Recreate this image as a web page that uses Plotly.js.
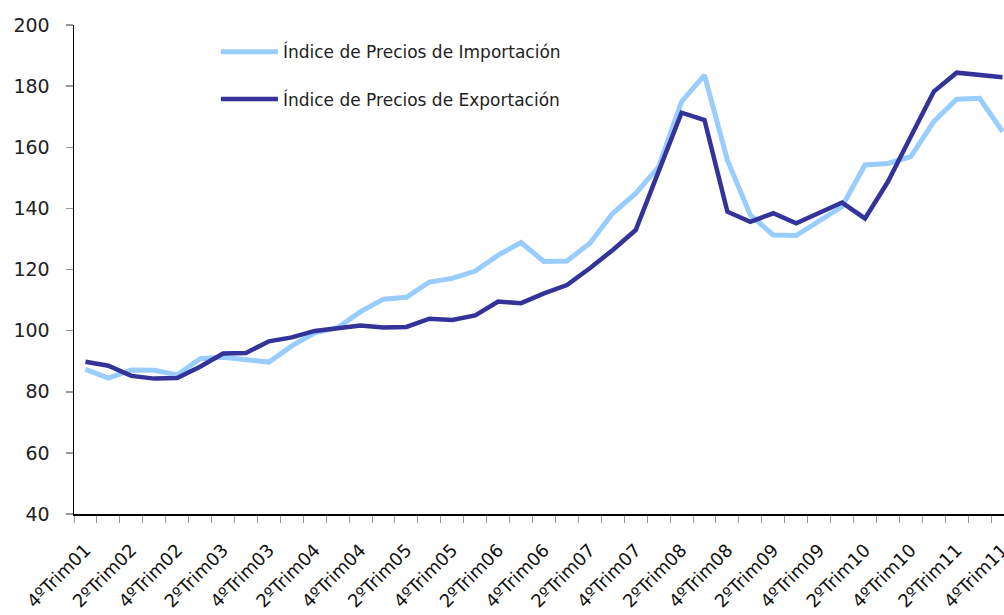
<!DOCTYPE html>
<html>
<head>
<meta charset="utf-8">
<script src="https://cdn.plot.ly/plotly-3.0.1.min.js"></script>
<style>
html, body { margin: 0; padding: 0; overflow: hidden; background: #fff; }
#chart { width: 1014px; height: 615px; }
</style>
</head>
<body>
<div id="chart"></div>
<script>
const categories = [
  "4ºTrim01",
  "1ºTrim02", "2ºTrim02", "3ºTrim02", "4ºTrim02",
  "1ºTrim03", "2ºTrim03", "3ºTrim03", "4ºTrim03",
  "1ºTrim04", "2ºTrim04", "3ºTrim04", "4ºTrim04",
  "1ºTrim05", "2ºTrim05", "3ºTrim05", "4ºTrim05",
  "1ºTrim06", "2ºTrim06", "3ºTrim06", "4ºTrim06",
  "1ºTrim07", "2ºTrim07", "3ºTrim07", "4ºTrim07",
  "1ºTrim08", "2ºTrim08", "3ºTrim08", "4ºTrim08",
  "1ºTrim09", "2ºTrim09", "3ºTrim09", "4ºTrim09",
  "1ºTrim10", "2ºTrim10", "3ºTrim10", "4ºTrim10",
  "1ºTrim11", "2ºTrim11", "3ºTrim11", "4ºTrim11"
];
const tickLabels = [
  "4ºTrim01",
  "", "2ºTrim02", "", "4ºTrim02",
  "", "2ºTrim03", "", "4ºTrim03",
  "", "2ºTrim04", "", "4ºTrim04",
  "", "2ºTrim05", "", "4ºTrim05",
  "", "2ºTrim06", "", "4ºTrim06",
  "", "2ºTrim07", "", "4ºTrim07",
  "", "2ºTrim08", "", "4ºTrim08",
  "", "2ºTrim09", "", "4ºTrim09",
  "", "2ºTrim10", "", "4ºTrim10",
  "", "2ºTrim11", "", "4ºTrim11"
];
const importIndex = [87.3, 84.5, 87.1, 87.0, 85.5, 90.8, 91.3, 90.3, 89.7, 95.0,
  99.3, 101.0, 106.2, 110.3, 110.9, 115.9, 117.1, 119.5, 124.7, 128.8,
  122.6, 122.8, 128.6, 138.4, 144.9, 153.6, 174.9, 183.6, 155.8, 137.8,
  131.3, 131.1, 135.9, 140.6, 154.2, 154.7, 156.9, 168.4, 175.7, 176.0, 165.1];
const exportIndex = [89.8, 88.5, 85.2, 84.3, 84.5, 88.2, 92.5, 92.7, 96.5, 97.8,
  99.9, 100.7, 101.7, 101.0, 101.2, 103.9, 103.5, 105.0, 109.5, 109.0,
  112.2, 114.9, 120.4, 126.4, 132.9, 152.1, 171.3, 168.9, 138.9, 135.6,
  138.4, 135.1, 138.4, 141.9, 136.7, 148.7, 163.5, 178.2, 184.4, 183.6, 182.9];
const seriesNames = ["Índice de Precios de Importación", "Índice de Precios de Exportación"];
const yTicks = [40, 60, 80, 100, 120, 140, 160, 180, 200];

const font = "DejaVu Sans, Verdana, sans-serif";

const traces = [
  {x: categories, y: importIndex, name: seriesNames[0], type: "scatter", mode: "lines",
   legendgroup: "a", line: {color: "#99CCFF", width: 5}},
  {x: categories, y: exportIndex, name: seriesNames[1], type: "scatter", mode: "lines",
   legendgroup: "b", line: {color: "#333399", width: 4.5}}
];

const layout = {
  width: 1014, height: 615,
  margin: {l: 74, r: 0, t: 25, b: 101},
  paper_bgcolor: "#fff", plot_bgcolor: "#fff",
  font: {family: font, color: "#111"},
  showlegend: true,
  legend: {x: 0.151, y: 0.981, xanchor: "left", yanchor: "top",
    font: {family: font, size: 17, color: "#222"},
    bgcolor: "rgba(0,0,0,0)", tracegroupgap: 22, traceorder: "grouped",
    itemwidth: 57},
  xaxis: {
    type: "category", range: [-0.5, 40.5],
    tickmode: "array", tickvals: categories, ticktext: tickLabels,
    tickson: "boundaries", ticks: "outside", ticklen: 7, tickcolor: "#999", tickwidth: 1,
    tickangle: -45, tickfont: {family: font, size: 18, color: "#111"},
    ticklabelstandoff: 17,
    showline: true, linecolor: "#000", linewidth: 1.5,
    showgrid: false, zeroline: false
  },
  yaxis: {
    range: [40, 200], tickmode: "array", tickvals: yTicks,
    ticks: "outside", ticklen: 7, tickcolor: "#999", tickwidth: 1.5,
    tickfont: {family: font, size: 19, color: "#222"},
    ticklabelstandoff: 12,
    showline: true, linecolor: "#000", linewidth: 1.5,
    showgrid: false, zeroline: false
  }
};

Plotly.newPlot("chart", traces, layout, {displayModeBar: false, staticPlot: true});
</script>
</body>
</html>
